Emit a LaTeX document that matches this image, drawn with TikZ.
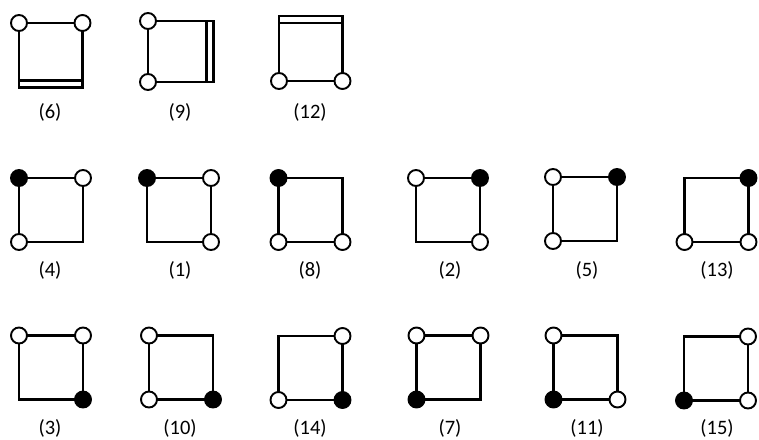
\documentclass[tikz,border=0pt]{standalone}
\usepackage{fontspec}
\setmainfont{Carlito}
\usetikzlibrary{calc}
\begin{document}
\begin{tikzpicture}[x=1pt,y=-1pt,line width=2.2pt,
  oc/.style={circle,draw,fill=white,minimum size=16pt,inner sep=0pt,line width=1.9pt},
  fc/.style={circle,draw,fill=black,minimum size=16pt,inner sep=0pt,line width=1.9pt},
  nc/.style={inner sep=0pt,minimum size=0pt},
  lab/.style={font=\fontsize{20.5}{22}\selectfont,inner sep=0pt,anchor=base}]
\useasboundingbox (0,0) rectangle (759,439);
% top row with double bars
\draw (19,23) rectangle (82.5,87.5);
\draw (19,80.5) -- (82.5,80.5);
\node[oc] (a6) at (19,23) {};
\node[oc] (b6) at (82.5,23) {};
\node[lab] (l6) at (50,118) {(6)};

\draw (148,21) rectangle (213.5,82);
\draw (206.5,21) -- (206.5,82);
\node[oc] (a9) at (148,21) {};
\node[oc] (b9) at (148,82) {};
\node[lab] (l9) at (180,118) {(9)};

\draw (279,16) rectangle (342.5,81);
\draw (279,23) -- (342.5,23);
\node[oc] (a12) at (279,81) {};
\node[oc] (b12) at (342.5,81) {};
\node[lab] (l12) at (310,118) {(12)};

% rows 2 and 3
\foreach \n/\x/\y/\ly/\lx/\tl/\tr/\bl/\br in {
  4/19/178/276.5/50/fc/oc/oc/nc,
  1/147/178/276.5/180/fc/oc/nc/oc,
  8/278.5/178/276.5/310/fc/nc/oc/oc,
  2/416/178/276.5/450/oc/fc/nc/oc,
  5/553/177/276.5/587/oc/fc/oc/nc,
  13/684.5/178/276.5/717/nc/fc/oc/oc,
  3/19/335.5/434.5/50/oc/oc/nc/fc,
  10/149/335.5/434.5/180/oc/nc/oc/fc,
  14/278.5/336/434.5/310/nc/oc/oc/fc,
  7/416.5/335.5/434.5/450/oc/oc/fc/nc,
  11/553.5/335.5/434.5/587/oc/nc/fc/oc,
  15/684/336.5/434.5/717/nc/oc/fc/oc}{
  \draw (\x,\y) rectangle ++(64,64);
  \node[\tl] (tl\n) at (\x,\y) {};
  \node[\tr] (tr\n) at ($(\x,\y)+(64,0)$) {};
  \node[\bl] (bl\n) at ($(\x,\y)+(0,64)$) {};
  \node[\br] (br\n) at ($(\x,\y)+(64,64)$) {};
  \node[lab] (l\n) at (\lx,\ly) {(\n)};
}
\end{tikzpicture}
\end{document}
